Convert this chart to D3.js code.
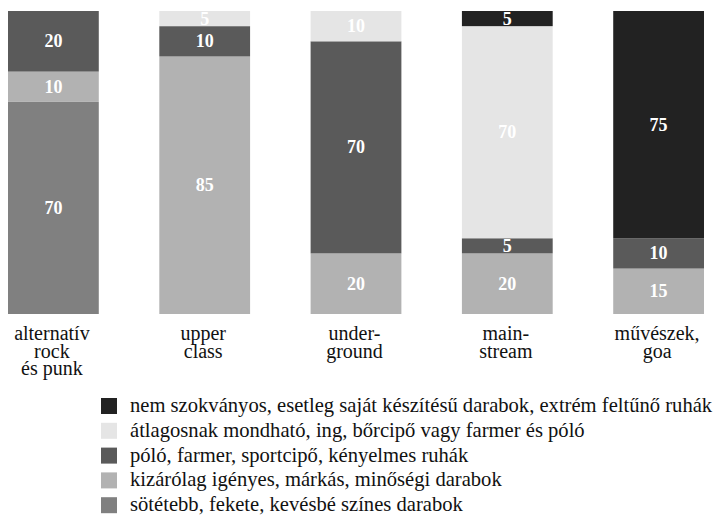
<!DOCTYPE html>
<html><head><meta charset="utf-8">
<script src="https://cdn.jsdelivr.net/npm/d3@7"></script>
<style>body{margin:0;background:#fff}</style>
</head><body>
<svg id="c" width="714" height="520"></svg>
<script>
const categories = ["alternatív rock és punk","upper class","under- ground","main- stream","művészek, goa"];
const categoryLines = [["alternatív","rock","és punk"],["upper","class"],["under-","ground"],["main-","stream"],["művészek,","goa"]];
const seriesNames = [
  "sötétebb, fekete, kevésbé színes darabok",
  "kizárólag igényes, márkás, minőségi darabok",
  "póló, farmer, sportcipő, kényelmes ruhák",
  "átlagosnak mondható, ing, bőrcipő vagy farmer és póló",
  "nem szokványos, esetleg saját készítésű darabok, extrém feltűnő ruhák"
];
const sotetebb   = [70, 0, 0, 0, 0];
const kizarolag  = [10, 85, 20, 20, 15];
const polo       = [20, 10, 70, 5, 10];
const atlagos    = [0, 5, 10, 70, 0];
const nemszokv   = [0, 0, 0, 5, 75];
const seriesValues = [sotetebb, kizarolag, polo, atlagos, nemszokv];
const colors = ["#808080","#b2b2b2","#5a5a5a","#e5e5e5","#222222"];

const svg = d3.select("#c");
const font = "Liberation Serif";

const x = d3.scaleBand().domain(categories).range([8, 704]).paddingInner(0.4).paddingOuter(0);
const y = d3.scaleLinear().domain([0, 100]).range([314, 11]);

const table = categories.map((c, i) => {
  const o = {cat: c};
  seriesNames.forEach((s, j) => o[s] = seriesValues[j][i]);
  return o;
});
const stack = d3.stack().keys(seriesNames)(table);

const g = svg.append("g");
stack.forEach((layer, j) => {
  layer.forEach(d => {
    const v = d[1] - d[0];
    if (v <= 0) return;
    g.append("rect")
      .attr("x", x(d.data.cat)).attr("width", x.bandwidth())
      .attr("y", y(d[1])).attr("height", y(d[0]) - y(d[1]))
      .attr("fill", colors[j]);
  });
});
stack.forEach((layer, j) => {
  layer.forEach(d => {
    const v = d[1] - d[0];
    if (v <= 0) return;
    g.append("text")
      .attr("x", x(d.data.cat) + x.bandwidth()/2)
      .attr("y", (y(d[0]) + y(d[1]))/2)
      .attr("dy", "0.33em")
      .attr("text-anchor", "middle")
      .attr("fill", "#fff")
      .style("font-family", font).style("font-weight", "bold").style("font-size", "18px")
      .text(v);
  });
});

// category labels
categories.forEach((c, i) => {
  const t = svg.append("text")
    .attr("text-anchor", "middle")
    .style("font-family", font).style("font-size", "20px").attr("fill", "#111");
  categoryLines[i].forEach((ln, k) => {
    t.append("tspan").attr("x", x(c) + x.bandwidth()/2 - 1.5).attr("y", 340 + k*17.5).text(ln);
  });
});

// legend (top to bottom: reversed series order)
const legendOrder = seriesNames.map((s, j) => j).reverse();
legendOrder.forEach((j, r) => {
  const yy = 406 + r * 24.8;
  svg.append("rect").attr("x", 101).attr("y", yy - 8).attr("width", 16).attr("height", 16).attr("fill", colors[j]);
  svg.append("text").attr("x", 130).attr("y", yy + 6)
    .style("font-family", font).style("font-size", "20.6px").attr("fill", "#111")
    .text(seriesNames[j]);
});
</script>
</body></html>
